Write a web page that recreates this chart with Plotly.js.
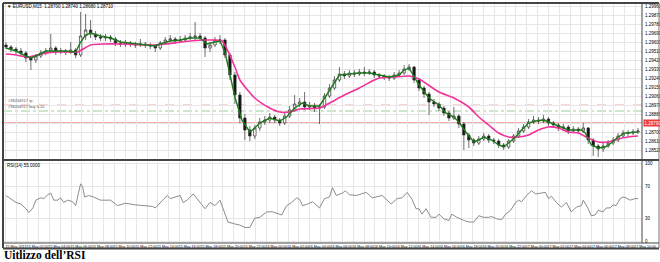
<!DOCTYPE html>
<html>
<head>
<meta charset="utf-8">
<script src="https://cdn.plot.ly/plotly-3.0.1.min.js"></script>
<style>html,body{margin:0;padding:0;background:#fff;}#chart{width:660px;height:262px;}</style>
</head>
<body>
<div id="chart"></div>
<script>
// ---- data ----
const symbol = "EURUSD,M15";
const open = [1.2957,1.2955,1.2953,1.2951,1.2949,1.2944,1.2942,1.2946,1.2949,1.2951,
1.2954,1.2950,1.2951,1.2950,1.2952,1.2947,1.2966,1.2972,1.2968,1.2965,
1.2964,1.2965,1.2963,1.2959,1.2958,1.2959,1.2958,1.2957,1.2958,1.2957,
1.2956,1.2954,1.2959,1.2962,1.2963,1.2961,1.2962,1.2964,1.2965,1.2966,
1.2964,1.2954,1.2957,1.2962,1.2962,1.2947,1.2927,1.2907,1.2884,1.2872,
1.2866,1.2874,1.2880,1.2882,1.2885,1.2882,1.2879,1.2886,1.2892,1.2898,
1.2900,1.2895,1.2896,1.2894,1.2895,1.2906,1.2914,1.2922,1.2928,1.2926,
1.2929,1.2928,1.2930,1.2929,1.2930,1.2927,1.2926,1.2925,1.2924,1.2927,
1.2929,1.2933,1.2935,1.2922,1.2914,1.2908,1.2900,1.2898,1.2894,1.2889,
1.2884,1.2886,1.2878,1.2867,1.2862,1.2859,1.2863,1.2866,1.2862,1.2861,
1.2857,1.2855,1.2861,1.2866,1.2871,1.2875,1.2880,1.2882,1.2881,1.2883,
1.2879,1.2877,1.2874,1.2875,1.2871,1.2873,1.2871,1.2874,1.2862,1.2856,
1.2853,1.2856,1.2859,1.2862,1.2866,1.2869,1.2869,1.2870];
const high = [1.2960,1.2957,1.2955,1.2954,1.2951,1.2946,1.2948,1.2952,1.2954,1.2968,
1.2956,1.2954,1.2953,1.2960,1.2954,1.2990,1.2988,1.2982,1.2971,1.2968,
1.2968,1.2967,1.2965,1.2962,1.2962,1.2961,1.2960,1.2963,1.2960,1.2959,
1.2958,1.2961,1.2965,1.2967,1.2965,1.2966,1.2967,1.2969,1.2980,1.2969,
1.2966,1.2960,1.2965,1.2967,1.2964,1.2949,1.2930,1.2910,1.2888,1.2876,
1.2877,1.2884,1.2886,1.2889,1.2887,1.2884,1.2889,1.2896,1.2907,1.2904,
1.2910,1.2900,1.2899,1.2898,1.2909,1.2918,1.2926,1.2935,1.2931,1.2932,
1.2932,1.2933,1.2935,1.2933,1.2932,1.2929,1.2928,1.2927,1.2930,1.2932,
1.2937,1.2938,1.2936,1.2924,1.2916,1.2910,1.2903,1.2900,1.2896,1.2891,
1.2895,1.2888,1.2880,1.2869,1.2864,1.2866,1.2869,1.2868,1.2864,1.2863,
1.2859,1.2863,1.2868,1.2874,1.2878,1.2883,1.2886,1.2885,1.2887,1.2885,
1.2881,1.2879,1.2878,1.2877,1.2876,1.2875,1.2879,1.2875,1.2864,1.2858,
1.2859,1.2862,1.2865,1.2869,1.2872,1.2872,1.2873,1.2874];
const low = [1.2953,1.2950,1.2948,1.2946,1.2940,1.2932,1.2939,1.2944,1.2947,1.2949,
1.2947,1.2948,1.2947,1.2948,1.2944,1.2945,1.2962,1.2964,1.2962,1.2961,
1.2961,1.2960,1.2956,1.2955,1.2955,1.2955,1.2954,1.2955,1.2954,1.2953,
1.2950,1.2952,1.2957,1.2960,1.2958,1.2959,1.2960,1.2962,1.2962,1.2961,
1.2945,1.2950,1.2955,1.2958,1.2944,1.2922,1.2898,1.2879,1.2862,1.2861,
1.2863,1.2871,1.2877,1.2879,1.2879,1.2876,1.2877,1.2884,1.2890,1.2895,
1.2892,1.2892,1.2890,1.2878,1.2893,1.2904,1.2912,1.2920,1.2923,1.2924,
1.2925,1.2926,1.2926,1.2927,1.2924,1.2923,1.2922,1.2921,1.2922,1.2925,
1.2927,1.2931,1.2919,1.2911,1.2904,1.2887,1.2895,1.2891,1.2886,1.2881,
1.2882,1.2874,1.2852,1.2854,1.2856,1.2857,1.2861,1.2859,1.2858,1.2854,
1.2852,1.2853,1.2859,1.2864,1.2869,1.2873,1.2878,1.2878,1.2879,1.2876,
1.2874,1.2871,1.2871,1.2868,1.2869,1.2868,1.2869,1.2858,1.2846,1.2845,
1.2850,1.2854,1.2857,1.2860,1.2864,1.2866,1.2867,1.2868];
const close = [1.2955,1.2953,1.2951,1.2949,1.2944,1.2942,1.2946,1.2949,1.2951,1.2954,
1.2950,1.2951,1.2950,1.2952,1.2947,1.2966,1.2972,1.2968,1.2965,1.2964,
1.2965,1.2963,1.2959,1.2958,1.2959,1.2958,1.2957,1.2958,1.2957,1.2956,
1.2954,1.2959,1.2962,1.2963,1.2961,1.2962,1.2964,1.2965,1.2966,1.2964,
1.2954,1.2957,1.2962,1.2962,1.2947,1.2927,1.2907,1.2884,1.2872,1.2866,
1.2874,1.2880,1.2882,1.2885,1.2882,1.2879,1.2886,1.2892,1.2898,1.2900,
1.2895,1.2896,1.2894,1.2895,1.2906,1.2914,1.2922,1.2928,1.2926,1.2929,
1.2928,1.2930,1.2929,1.2930,1.2927,1.2926,1.2925,1.2924,1.2927,1.2929,
1.2933,1.2935,1.2922,1.2914,1.2908,1.2900,1.2898,1.2894,1.2889,1.2884,
1.2886,1.2878,1.2867,1.2862,1.2859,1.2863,1.2866,1.2862,1.2861,1.2857,
1.2855,1.2861,1.2866,1.2871,1.2875,1.2880,1.2882,1.2881,1.2883,1.2879,
1.2877,1.2874,1.2875,1.2871,1.2873,1.2871,1.2874,1.2862,1.2856,1.2853,
1.2856,1.2859,1.2862,1.2866,1.2869,1.2869,1.2870,1.2871];

// fast moving average (green) at bar positions
const fastIdx = [0,2,4,5,6,8,10,12,14,15,16,17,19,21,23,25,27,29,30,31,33,35,37,39,40.4,42,43,44,45,46,47.4,49,50,51,53,55,56.4,58,59.6,61,63,64,65,66,67,69,71,73,75,77,79,80,81,82,83,85,87,88.4,90,91,92.4,94,95,96,97.6,99,100,101,102.4,103.6,105,106.4,108,109,110.4,111.6,113,115.6,116.4,117.6,119,120.4,121.6,123,124.4,127];
const fastVal = [1.2954,1.2951,1.2946,1.2944,1.2946,1.2951,1.2951,1.2951,1.2950,1.2960,1.2967,1.2969,1.2966,1.2964,1.2960,1.2959,1.2958,1.2957,1.2956,1.2958,1.2961,1.2962,1.2964,1.2964,1.2958,1.2960,1.2961,1.2950,1.2927,1.2905,1.2882,1.2870,1.2874,1.2879,1.2884,1.2881,1.2885,1.2894,1.2899,1.2896,1.2896,1.2904,1.2912,1.2920,1.2927,1.2928,1.2929,1.2929,1.2927,1.2925,1.2927,1.2932,1.2934,1.2926,1.2917,1.2904,1.2897,1.2889,1.2885,1.2880,1.2870,1.2860,1.2862,1.2865,1.2862,1.2857,1.2855,1.2859,1.2865,1.2872,1.2879,1.2881,1.2882,1.2880,1.2877,1.2875,1.2872,1.2872,1.2869,1.2857,1.2854,1.2855,1.2859,1.2865,1.2869,1.2870];

// slow moving average (pink)
const slowIdx = [0,2,4.4,7,10,12.4,14.4,17,20,23,29,32,37,41,43.4,46,47,50,53,55,57,59,63,65,68,71,74,75,78,81,83,87,90,93,95,97,99,101,103,105,107,109,111,113,115,117,119,121,123,125,127];
const slowVal = [1.2948,1.2947,1.2945,1.2948,1.2950,1.2950,1.2950,1.2957,1.2958,1.2958,1.2957,1.2958,1.2961,1.2962,1.2961,1.2935,1.2922,1.2904,1.2894,1.2890,1.2890,1.2893,1.2894,1.2899,1.2907,1.2914,1.2922,1.2924,1.2925,1.2926,1.2923,1.2910,1.2904,1.2895,1.2885,1.2877,1.2869,1.2865,1.2865,1.2867,1.2872,1.2875,1.2874,1.2870,1.2869,1.2864,1.2860,1.2860,1.2863,1.2865,1.2866];

// RSI(14)
const rsiIdx = [0,1,2,3,4,4.6,5.4,6,7,7.6,8.4,9,9.6,10.4,11,11.6,12.4,13.4,14,14.6,15,15.4,15.8,16.6,17.6,19,21,22.4,24,26,28,29.4,30,31,31.6,32.4,33,34,35,35.6,36.4,37,37.6,38.4,39,40,41,42,43,
44,44.6,45.6,47,48,49,50,51,52.4,53.6,55.4,56.4,57.4,58.4,59,59.6,60.6,61.6,63,64,65,65.6,66.4,67.6,68.2,69,70.4,71.6,72.4,73.6,75.6,77.4,78.6,79.6,80.6,81.6,82.4,83,83.6,84.4,85.4,86.4,87,
88,89,89.6,90.6,92,93,94,95,96,97,97.6,98.6,99.6,100.4,101.4,102.4,103,103.6,104.6,105.6,106.4,107.4,108.4,109,109.6,110.6,111.6,112.6,113.6,114.6,115.6,116,117,117.6,118.4,119,120,120.6,121.4,122,122.6,123.4,124,124.6,125.4,126.4,127];
const rsiVal = [59,55,50,48,42,37,43,53,56,55,60,62,53,53,56,50,53,51,46,63,74,70,57,59,57,53,53,46,49,47,46,45,43,50,54,59,55,57,59,50,53,57,61,55,50,42,50,46,53,
35,25,23,21,18,18,30,31,38,38,34,46,50,56,54,46,48,51,43,55,57,69,59,62,65,60,59,61,63,56,59,48,55,56,63,54,42,42,35,42,31,31,35,
29,27,35,31,27,25,25,33,31,31,32,29,28,35,40,50,53,51,59,65,61,62,63,55,58,50,44,50,38,44,46,53,42,33,34,40,38,43,43,47,46,55,57,56,53,55,55];

// horizontal order levels
const levelStop = 1.2879;   // red line
const levelTP = 1.2897;     // pink dashed
const levelOpen = 1.2891;   // green dash-dot
const orderLabelTP = "#38204917 tp";
const orderLabelOpen = "#38204917 buy 0.10";

// time axis labels (one every two grid columns)
const timeLabels = ["15 May 2013","15 May 02:00","15 May 04:00","15 May 06:00","15 May 08:00","15 May 10:00","15 May 12:00","15 May 14:00","15 May 16:00","15 May 18:00","15 May 20:00","15 May 22:00","16 May 00:00","16 May 02:00","16 May 04:00","16 May 06:00","16 May 08:00","16 May 10:00","16 May 12:00","16 May 14:00","16 May 16:00","16 May 18:00","16 May 20:00","16 May 22:00","17 May 00:00","17 May 02:00","17 May 04:00","17 May 06:00","17 May 08:00","17 May 10:00"];
const rsiTicks = [0,30,70,100];
const chartTitle = "Uitlizzo dell’RSI";

// ---- layout helpers ----
const W = 660, H = 262;
const px = x => x / W;
const py = y => 1 - y / H;
const idx = open.map((_, i) => i);
const gridStep = 2.18;
const gridVals = [], gridText = [];
for (let k = 0; k < timeLabels.length * 2; k++) {
  gridVals.push(k * gridStep);
  gridText.push(k % 2 === 0 ? timeLabels[k / 2] : "");
}
const xDom = [px(3), px(642)];
const xRange = [-0.6, 127.8];
const gridColor = "#e6e6e6";
const tickFont = {family: "Liberation Sans, Arial, sans-serif", size: 4.5, color: "#000"};
const timeFont = {family: "Liberation Sans Narrow, Liberation Sans, Arial, sans-serif", size: 3.6, color: "#000"};

const traces = [
  {type: "candlestick", x: idx, open: open, high: high, low: low, close: close,
   xaxis: "x", yaxis: "y", whiskerwidth: 0, hoverinfo: "skip",
   increasing: {line: {color: "#333", width: 0.7}, fillcolor: "#ffffff"},
   decreasing: {line: {color: "#333", width: 0.7}, fillcolor: "#111111"}},
  {type: "scatter", mode: "lines", x: slowIdx, y: slowVal, xaxis: "x", yaxis: "y",
   line: {color: "#f2319a", width: 1.6, shape: "spline", smoothing: 0.6}, hoverinfo: "skip"},
  {type: "scatter", mode: "lines", x: fastIdx, y: fastVal, xaxis: "x", yaxis: "y",
   line: {color: "#1c7a1c", width: 1.4}, hoverinfo: "skip"},
  {type: "scatter", mode: "lines", x: rsiIdx, y: rsiVal, xaxis: "x2", yaxis: "y2",
   line: {color: "#8c8c8c", width: 1}, hoverinfo: "skip"}
];

const frame = (x0, y0, x1, y1, w, c) => ({type: "line", xref: "paper", yref: "paper",
  x0: px(x0), y0: py(y0), x1: px(x1), y1: py(y1), line: {color: c || "#444", width: w}, layer: "above"});
const level = (v, color, dash, w) => ({type: "line", xref: "paper", yref: "y",
  x0: xDom[0], x1: xDom[1], y0: v, y1: v, line: {color: color, width: w, dash: dash}, layer: "below"});

const last = close.length - 1;
const layout = {
  width: W, height: H, margin: {l: 0, r: 0, t: 0, b: 0},
  paper_bgcolor: "#ffffff", plot_bgcolor: "#ffffff", showlegend: false,
  xaxis: {domain: xDom, range: xRange, anchor: "y", rangeslider: {visible: false},
    tickmode: "array", tickvals: gridVals, showticklabels: false, ticks: "",
    showgrid: true, gridcolor: gridColor, gridwidth: 1, zeroline: false, showline: false, fixedrange: true},
  yaxis: {domain: [py(158), py(3)], range: [1.2844, 1.2999], side: "right",
    tickmode: "linear", tick0: 1.2996, dtick: 0.0009, tickformat: ".5f", tickfont: tickFont,
    ticks: "", ticklabelstandoff: 2, showgrid: true, gridcolor: gridColor, zeroline: false, showline: false},
  xaxis2: {domain: xDom, range: xRange, anchor: "y2", rangeslider: {visible: false},
    tickmode: "array", tickvals: gridVals, ticktext: gridText, tickfont: timeFont,
    tickangle: 0, ticks: "", ticklabelshift: 10, ticklabelstandoff: 0,
    showgrid: true, gridcolor: gridColor, gridwidth: 1, zeroline: false, showline: false},
  yaxis2: {domain: [py(243), py(162)], range: [-2, 102], side: "right",
    tickmode: "array", tickvals: rsiTicks, ticktext: rsiTicks.map(String), tickfont: tickFont,
    ticks: "", ticklabelstandoff: 2, showgrid: true, gridcolor: gridColor, zeroline: false, showline: false},
  shapes: [
    level(levelTP, "#f2a0a8", "dash", 0.9),
    level(levelOpen, "#8cc88c", "dashdot", 0.9),
    level(levelStop, "#f05a5a", "solid", 1.2),
    frame(3, 3, 659, 3, 2),
    frame(3, 3, 3, 248, 2),
    frame(642, 3, 642, 243, 1),
    frame(659, 3, 659, 248, 1, "#777"),
    frame(3, 160, 659, 160, 2),
    frame(3, 243, 659, 243, 1),
    frame(3, 248.5, 659, 248.5, 2)
  ],
  annotations: [
    {xref: "paper", yref: "paper", x: px(5), y: py(6.5), xanchor: "left", yanchor: "middle", showarrow: false,
     text: "▼ " + symbol + "  " + [open[last], high[last], low[last], close[last]].map(v => v.toFixed(5)).join(" "),
     font: tickFont},
    {xref: "paper", yref: "paper", x: px(5), y: py(166), xanchor: "left", yanchor: "middle", showarrow: false,
     text: "RSI(14) " + rsiVal[rsiVal.length - 1].toFixed(4), font: tickFont},
    {xref: "paper", yref: "y", x: px(6), y: levelTP, xanchor: "left", yanchor: "bottom", showarrow: false,
     text: orderLabelTP, font: {family: tickFont.family, size: 4, color: "#555"}},
    {xref: "paper", yref: "y", x: px(6), y: levelOpen, xanchor: "left", yanchor: "bottom", showarrow: false,
     text: orderLabelOpen, font: {family: tickFont.family, size: 4, color: "#555"}},
    {xref: "paper", yref: "y", x: px(643), y: levelStop, xanchor: "left", yanchor: "middle", showarrow: false,
     text: levelStop.toFixed(5), bgcolor: "#ef3b3b", borderpad: 0.5,
     font: {family: tickFont.family, size: 4.5, color: "#fff"}},
    {xref: "paper", yref: "paper", x: px(2), y: py(263), xanchor: "left", yanchor: "bottom", showarrow: false,
     text: "<b>" + chartTitle + "</b>",
     font: {family: "Liberation Serif, Times New Roman, serif", size: 11.5, color: "#000"}}
  ]
};

Plotly.newPlot("chart", traces, layout, {staticPlot: true, displayModeBar: false});
</script>
</body>
</html>
